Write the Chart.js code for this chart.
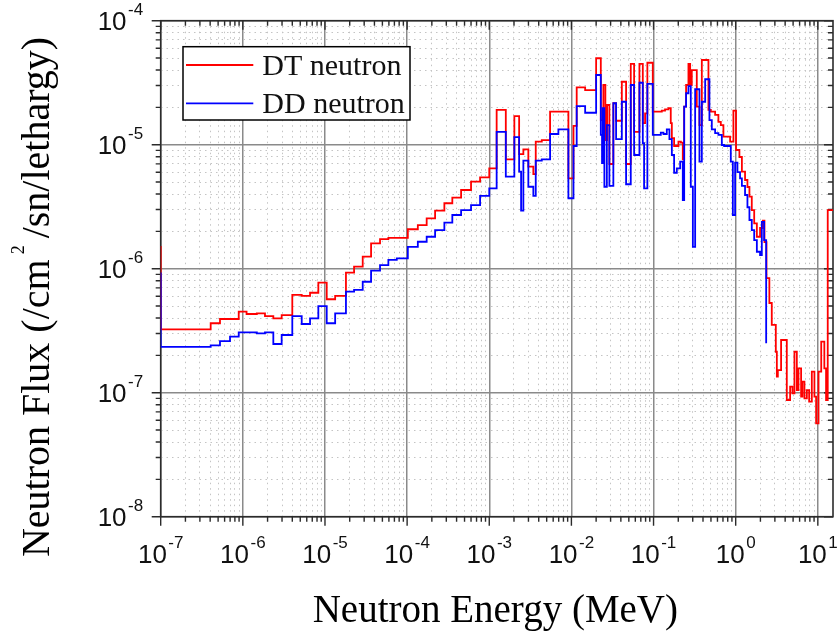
<!DOCTYPE html>
<html>
<head>
<meta charset="utf-8">
<title>Neutron Flux Spectrum</title>
<script src="https://cdn.jsdelivr.net/npm/chart.js@4.4.1/dist/chart.umd.min.js"></script>
<style>
  html, body { margin: 0; padding: 0; background: #fff; }
  #wrap { width: 838px; height: 637px; position: relative; }
</style>
</head>
<body>
<div id="wrap"><canvas id="spectrum"></canvas></div>
<script>
// lower group edges (MeV) and flux per lethargy, DT source
const dtEnergy = [5e-8, 1.0e-7, 4.06e-7, 5.27e-7, 8.91e-7, 1.11e-6, 1.48e-6, 1.86e-6, 2.35e-6, 2.97e-6,
    4.00e-6, 5.21e-6, 6.58e-6, 8.30e-6, 1.05e-5, 1.33e-5, 1.80e-5, 2.26e-5, 2.88e-5, 3.64e-5,
    4.68e-5, 5.91e-5, 1.02e-4, 1.35e-4, 1.73e-4, 2.19e-4, 2.84e-4, 3.55e-4, 4.54e-4, 6.00e-4,
    7.73e-4, 1.00e-3, 1.23e-3, 1.59e-3, 2.02e-3, 2.31e-3, 2.60e-3, 2.99e-3, 3.44e-3, 3.68e-3,
    4.36e-3, 5.50e-3, 9.19e-3, 1.06e-2, 1.16e-2, 1.47e-2, 2.00e-2, 2.28e-2, 2.45e-2, 2.59e-2,
    2.72e-2, 2.90e-2, 3.24e-2, 3.50e-2, 4.11e-2, 4.63e-2, 5.28e-2, 5.80e-2, 6.73e-2, 7.40e-2,
    7.89e-2, 8.41e-2, 9.79e-2, 0.126, 0.138, 0.152, 0.162, 0.167, 0.178, 0.201,
    0.215, 0.227, 0.236, 0.249, 0.266, 0.279, 0.292, 0.336, 0.362, 0.387,
    0.466, 0.498, 0.562, 0.616, 0.659, 0.709, 0.855, 0.938, 1.01, 1.11,
    1.19, 1.30, 1.39, 1.47, 1.57, 1.68, 1.81, 1.98, 2.14, 2.24,
    2.37, 2.57, 2.75, 3.08, 3.17, 3.26, 3.57, 4.19, 4.60, 4.91,
    5.19, 5.55, 5.81, 6.26, 6.49, 6.87, 7.35, 7.84, 8.45, 9.09,
    9.53, 10.2, 11.0, 12.0, 12.6, 13.2, 20];
const dtFlux = [1.50e-6, 3.24e-7, 3.63e-7, 3.93e-7, 4.50e-7, 4.31e-7, 4.37e-7, 4.15e-7, 3.98e-7, 4.23e-7,
    6.14e-7, 6.03e-7, 6.40e-7, 7.71e-7, 5.67e-7, 6.03e-7, 9.29e-7, 1.04e-6, 1.25e-6, 1.60e-6,
    1.73e-6, 1.77e-6, 2.08e-6, 2.25e-6, 2.55e-6, 2.94e-6, 3.37e-6, 3.74e-6, 4.31e-6, 5.03e-6,
    5.46e-6, 6.45e-6, 1.91e-5, 7.62e-6, 1.70e-5, 8.41e-6, 9.18e-6, 6.65e-6, 5.80e-6, 1.06e-5,
    1.09e-5, 1.85e-5, 5.36e-6, 1.42e-5, 2.90e-5, 2.76e-5, 4.98e-5, 1.58e-5, 3.03e-5, 1.09e-5,
    2.09e-5, 6.99e-6, 2.16e-5, 1.56e-5, 3.22e-5, 6.99e-6, 4.48e-5, 1.27e-5, 4.48e-5, 1.49e-5,
    1.79e-5, 4.58e-5, 1.85e-5, 1.88e-5, 1.93e-5, 1.97e-5, 1.49e-5, 1.13e-5, 9.76e-6, 1.06e-5,
    1.04e-5, 7.62e-6, 2.03e-5, 3.03e-5, 4.48e-5, 3.03e-5, 4.00e-5, 2.03e-5, 1.44e-5, 4.82e-5,
    1.91e-5, 1.85e-5, 1.74e-5, 1.53e-5, 1.44e-5, 1.16e-5, 1.06e-5, 1.88e-5, 9.06e-6, 7.96e-6,
    6.06e-6, 5.19e-6, 4.56e-6, 3.81e-6, 2.97e-6, 2.32e-6, 1.81e-6, 2.13e-6, 2.44e-6, 1.64e-6,
    8.41e-7, 5.29e-7, 3.52e-7, 2.14e-7, 1.35e-7, 1.52e-7, 2.66e-7, 8.73e-8, 1.12e-7, 9.89e-8,
    2.14e-7, 1.05e-7, 1.57e-7, 9.29e-8, 1.23e-7, 9.01e-8, 1.05e-7, 8.46e-8, 1.48e-7, 9.29e-8,
    5.66e-8, 1.48e-7, 2.58e-7, 1.57e-7, 8.73e-8, 2.97e-6, 2.97e-6];

// same for the DD source (stops at 2.45 MeV)
const ddEnergy = [5e-8, 1.0e-7, 4.06e-7, 5.27e-7, 6.98e-7, 8.91e-7, 1.48e-6, 1.86e-6, 2.35e-6, 2.97e-6,
    4.00e-6, 5.21e-6, 6.58e-6, 8.30e-6, 1.05e-5, 1.33e-5, 1.80e-5, 2.26e-5, 2.88e-5, 3.64e-5,
    4.68e-5, 5.91e-5, 7.48e-5, 1.02e-4, 1.35e-4, 1.73e-4, 2.19e-4, 2.84e-4, 3.55e-4, 4.54e-4,
    6.00e-4, 7.73e-4, 1.00e-3, 1.23e-3, 1.59e-3, 2.02e-3, 2.31e-3, 2.44e-3, 2.60e-3, 2.99e-3,
    3.44e-3, 3.68e-3, 4.36e-3, 5.50e-3, 6.94e-3, 9.19e-3, 1.06e-2, 1.16e-2, 1.47e-2, 2.00e-2,
    2.28e-2, 2.36e-2, 2.41e-2, 2.52e-2, 2.70e-2, 2.90e-2, 3.24e-2, 3.50e-2, 4.11e-2, 4.63e-2,
    5.28e-2, 5.80e-2, 6.73e-2, 7.40e-2, 7.67e-2, 8.41e-2, 9.79e-2, 0.1225, 0.132, 0.145,
    0.156, 0.167, 0.178, 0.192, 0.211, 0.227, 0.236, 0.249, 0.266, 0.284,
    0.301, 0.321, 0.362, 0.387, 0.425, 0.479, 0.512, 0.562, 0.616, 0.678,
    0.723, 0.872, 0.923, 0.984, 1.05, 1.13, 1.19, 1.30, 1.39, 1.47,
    1.57, 1.68, 1.81, 1.98, 2.08, 2.22, 2.35];
const ddFlux = [9.18e-7, 2.34e-7, 2.41e-7, 2.61e-7, 2.83e-7, 3.07e-7, 3.01e-7, 3.07e-7, 2.47e-7, 2.92e-7,
    4.15e-7, 3.58e-7, 3.98e-7, 5.00e-7, 3.63e-7, 4.37e-7, 6.53e-7, 6.74e-7, 7.85e-7, 9.64e-7,
    1.07e-6, 1.18e-6, 1.21e-6, 1.50e-6, 1.65e-6, 1.81e-6, 2.05e-6, 2.35e-6, 2.71e-6, 2.97e-6,
    3.26e-6, 3.86e-6, 4.45e-6, 1.27e-5, 5.52e-6, 1.15e-5, 6.06e-6, 2.94e-6, 7.43e-6, 4.58e-6,
    3.86e-6, 7.43e-6, 7.62e-6, 1.22e-5, 1.33e-5, 3.70e-6, 9.76e-6, 2.05e-5, 1.81e-5, 3.65e-5,
    1.20e-5, 7.12e-6, 1.97e-5, 4.58e-6, 1.44e-5, 4.65e-6, 2.16e-5, 1.11e-5, 2.22e-5, 4.80e-6,
    3.03e-5, 8.26e-6, 3.16e-5, 1.03e-5, 4.45e-6, 3.09e-5, 1.20e-5, 1.25e-5, 1.22e-5, 1.33e-5,
    1.11e-5, 8.26e-6, 5.94e-6, 6.45e-6, 7.29e-6, 3.58e-6, 2.03e-5, 2.60e-5, 2.97e-5, 4.58e-6,
    1.50e-6, 2.80e-5, 7.29e-6, 2.22e-5, 3.37e-5, 1.58e-5, 1.33e-5, 1.24e-5, 1.20e-5, 9.94e-6,
    9.76e-6, 7.29e-6, 2.71e-6, 7.16e-6, 6.02e-6, 5.36e-6, 4.65e-6, 3.93e-6, 3.13e-6, 2.47e-6,
    2.05e-6, 1.70e-6, 1.37e-6, 1.29e-6, 2.39e-6, 1.70e-6, 2.50e-7];

// axis ranges and decade labels
const xMin = 1e-7, xMax = 15.3;
const yMin = 1e-8, yMax = 1e-4;
const xExponents = [-7, -6, -5, -4, -3, -2, -1, 0, 1];
const yExponents = [-8, -7, -6, -5, -4];

const xTitle = 'Neutron Energy (MeV)';
const yTitleParts = ['Neutron Flux (/cm', '2', '/sn/lethargy)'];

const SANS = '"Liberation Sans", Arial, sans-serif';
const SERIF = '"Liberation Serif", "Times New Roman", serif';
const LINE_W = 1.8;

// 1..9 x 10^n ticks, decades flagged as major
function logTicks(lo, hi) {
    const ticks = [];
    for (let d = Math.floor(Math.log10(lo)); d <= Math.ceil(Math.log10(hi)); d++) {
        for (let m = 1; m <= 9; m++) {
            const v = m * Math.pow(10, d);
            if (v >= lo * 0.999 && v <= hi * 1.001) ticks.push({value: v, major: m === 1});
        }
    }
    return ticks;
}

const gridColor = ctx => ctx.tick && ctx.tick.major ? '#8a8a8a' : '#c4c4c4';
const gridWidth = ctx => ctx.tick && ctx.tick.major ? 1.5 : 1;
const gridDash = ctx => ctx.tick && ctx.tick.major ? [] : [1.5, 4];

// "10" with a raised exponent
function powerLabel(ctx, exp, x, baseline, align) {
    ctx.font = '26px ' + SANS;
    const wBase = ctx.measureText('10').width;
    ctx.font = '17px ' + SANS;
    const wExp = ctx.measureText(String(exp)).width;
    const gap = 1.5;
    const total = wBase + gap + wExp;
    const left = align === 'center' ? x - total / 2 : x - total;
    ctx.textAlign = 'left';
    ctx.textBaseline = 'alphabetic';
    ctx.font = '26px ' + SANS;
    ctx.fillText('10', left, baseline);
    ctx.font = '17px ' + SANS;
    ctx.fillText(String(exp), left + wBase + gap, baseline - 15);
}

// frame and ticks go under the curves, text and legend on top
const decorations = {
    id: 'decorations',
    beforeDatasetsDraw(chart) {
        const {ctx, chartArea: a, scales: {x, y}} = chart;
        ctx.save();
        ctx.strokeStyle = '#2b2b2b';
        ctx.lineWidth = 1.6;
        ctx.strokeRect(a.left, a.top, a.right - a.left, a.bottom - a.top);

        ctx.lineWidth = 1.4;
        ctx.beginPath();
        x.ticks.forEach(t => {
            const px = x.getPixelForValue(t.value);
            const len = t.major ? 9 : 5;
            ctx.moveTo(px, a.bottom); ctx.lineTo(px, a.bottom + len);
            ctx.moveTo(px, a.top); ctx.lineTo(px, a.top + len);
        });
        y.ticks.forEach(t => {
            const py = y.getPixelForValue(t.value);
            const len = t.major ? 9 : 5;
            ctx.moveTo(a.left - len, py); ctx.lineTo(a.left, py);
            ctx.moveTo(a.right - len, py); ctx.lineTo(a.right, py);
        });
        ctx.stroke();
        ctx.restore();
    },
    afterDatasetsDraw(chart) {
        const {ctx, chartArea: a, scales: {x, y}} = chart;
        ctx.save();

        ctx.fillStyle = '#111';
        xExponents.forEach(e => {
            powerLabel(ctx, e, x.getPixelForValue(Math.pow(10, e)), a.bottom + 46.5, 'center');
        });
        yExponents.forEach(e => {
            powerLabel(ctx, e, a.left - 17.5, y.getPixelForValue(Math.pow(10, e)) + 9.5, 'right');
        });

        // axis titles
        ctx.fillStyle = '#000';
        ctx.font = '39px ' + SERIF;
        ctx.textAlign = 'center';
        ctx.fillText(xTitle, (a.left + a.right) / 2 - 1.5, 621.5);

        ctx.save();
        ctx.translate(48.5, 297);
        ctx.rotate(-Math.PI / 2);
        const mainFont = '40px ' + SERIF, supFont = '18px ' + SERIF;
        ctx.font = mainFont;
        const w0 = ctx.measureText(yTitleParts[0]).width;
        const w2 = ctx.measureText(yTitleParts[2]).width;
        ctx.font = supFont;
        const w1 = ctx.measureText(yTitleParts[1]).width;
        const gapA = 5, gapB = 7;
        let cx = -(w0 + gapA + w1 + gapB + w2) / 2;
        ctx.textAlign = 'left';
        ctx.font = mainFont;
        ctx.fillText(yTitleParts[0], cx, 0);
        cx += w0 + gapA;
        ctx.font = supFont;
        ctx.fillText(yTitleParts[1], cx, -25);
        cx += w1 + gapB;
        ctx.font = mainFont;
        ctx.fillText(yTitleParts[2], cx, 0);
        ctx.restore();

        // legend box
        const box = {x: 183, y: 46.7, w: 227, h: 73.3};
        ctx.fillStyle = '#fff';
        ctx.fillRect(box.x, box.y, box.w, box.h);
        ctx.strokeStyle = '#000';
        ctx.lineWidth = 1.5;
        ctx.strokeRect(box.x, box.y, box.w, box.h);
        ctx.font = '30px ' + SERIF;
        ctx.textAlign = 'left';
        chart.data.datasets.forEach((ds, i) => {
            const ly = 65 + i * 38.3;
            ctx.strokeStyle = ds.borderColor;
            ctx.lineWidth = LINE_W;
            ctx.beginPath();
            ctx.moveTo(186, ly);
            ctx.lineTo(253.3, ly);
            ctx.stroke();
            ctx.fillStyle = '#111';
            ctx.fillText(ds.label, 262.3, ly + 10);
        });

        ctx.restore();
    }
};

function toPoints(energy, flux) {
    return energy.map((e, i) => ({x: e, y: flux[i]}));
}

// each value holds from its lower edge up to the next edge
const chart = new Chart(document.getElementById('spectrum'), {
    type: 'line',
    data: {
        datasets: [{
            label: 'DT neutron',
            data: toPoints(dtEnergy, dtFlux),
            borderColor: '#ff0000',
            borderWidth: LINE_W,
            stepped: 'before',
            pointRadius: 0,
            fill: false,
            order: 1
        }, {
            label: 'DD neutron',
            data: toPoints(ddEnergy, ddFlux),
            borderColor: '#0000ff',
            borderWidth: LINE_W,
            stepped: 'before',
            pointRadius: 0,
            fill: false,
            order: 0
        }]
    },
    options: {
        responsive: true,
        maintainAspectRatio: false,
        animation: false,
        layout: {padding: {top: 20.7, right: 5, left: 0, bottom: 0}},
        plugins: {legend: {display: false}, tooltip: {enabled: false}},
        scales: {
            x: {
                type: 'logarithmic',
                min: xMin,
                max: xMax,
                afterBuildTicks: s => { s.ticks = logTicks(xMin, xMax); },
                afterFit: s => { s.height = 120.3; },
                ticks: {display: false, autoSkip: false},
                grid: {drawTicks: false, color: gridColor, lineWidth: gridWidth},
                border: {display: false, dash: gridDash}
            },
            y: {
                type: 'logarithmic',
                min: yMin,
                max: yMax,
                afterBuildTicks: s => { s.ticks = logTicks(yMin, yMax); },
                afterFit: s => { s.width = 160.7; },
                ticks: {display: false, autoSkip: false},
                grid: {drawTicks: false, color: gridColor, lineWidth: gridWidth},
                border: {display: false, dash: gridDash}
            }
        }
    },
    plugins: [decorations]
});
</script>
</body>
</html>
